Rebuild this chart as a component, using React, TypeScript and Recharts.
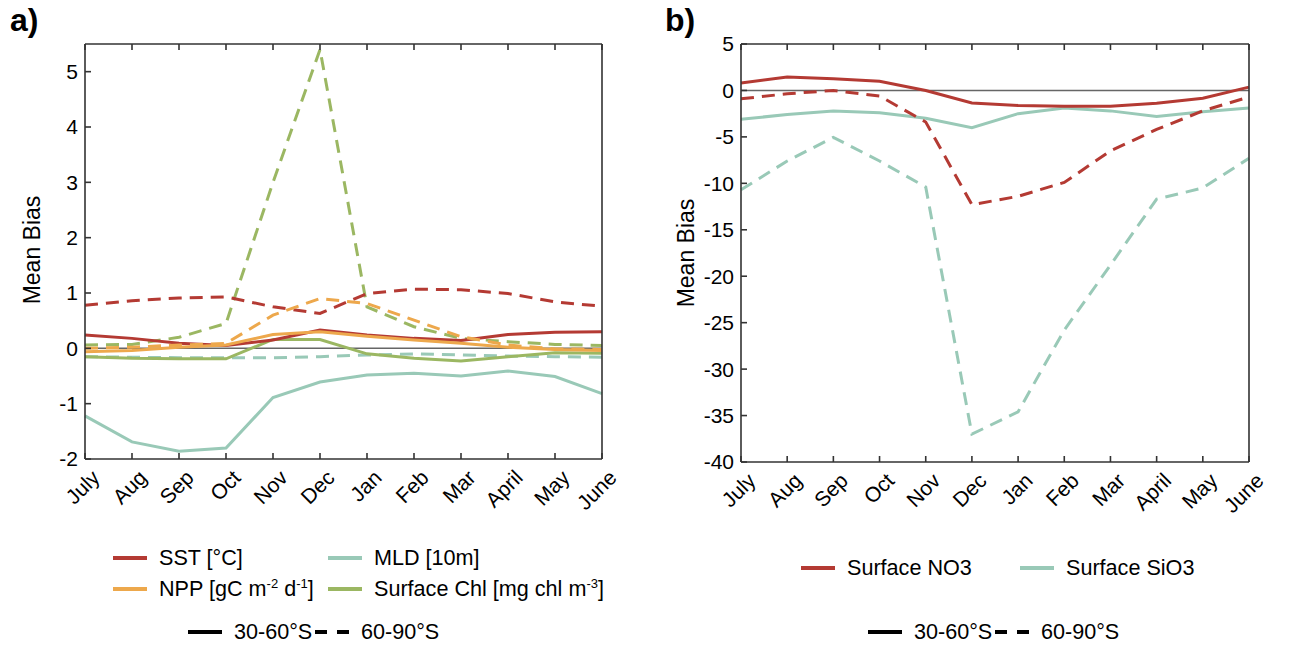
import React from 'react';
import { LineChart, Line, XAxis, YAxis, ReferenceLine } from 'recharts';

const months = ['July', 'Aug', 'Sep', 'Oct', 'Nov', 'Dec', 'Jan', 'Feb', 'Mar', 'April', 'May', 'June'];

// panel a, 30-60S (solid) and 60-90S (dashed)
const sstNorth = [0.24, 0.18, 0.09, 0.05, 0.15, 0.33, 0.24, 0.18, 0.14, 0.25, 0.29, 0.3];
const sstSouth = [0.78, 0.86, 0.91, 0.93, 0.75, 0.63, 0.99, 1.07, 1.06, 0.99, 0.84, 0.76];
const nppNorth = [-0.06, -0.04, 0.02, 0.06, 0.25, 0.3, 0.22, 0.15, 0.09, 0.02, -0.02, -0.04];
const nppSouth = [0.0, 0.02, 0.06, 0.09, 0.6, 0.9, 0.81, 0.51, 0.21, 0.06, -0.01, -0.02];
const chlNorth = [-0.15, -0.18, -0.19, -0.19, 0.16, 0.16, -0.1, -0.18, -0.23, -0.15, -0.08, -0.09];
const chlSouth = [0.06, 0.07, 0.2, 0.45, 3.0, 5.4, 0.75, 0.39, 0.18, 0.12, 0.07, 0.05];
const mldNorth = [-1.22, -1.69, -1.86, -1.8, -0.89, -0.61, -0.48, -0.45, -0.5, -0.41, -0.51, -0.82];
const mldSouth = [-0.15, -0.16, -0.17, -0.17, -0.17, -0.15, -0.12, -0.1, -0.12, -0.14, -0.15, -0.16];

// panel b
const no3North = [0.8, 1.45, 1.26, 1.0, 0.0, -1.34, -1.62, -1.7, -1.7, -1.37, -0.83, 0.36];
const no3South = [-0.9, -0.36, 0.0, -0.6, -3.4, -12.3, -11.4, -9.9, -6.5, -4.2, -2.2, -0.7];
const sio3North = [-3.1, -2.6, -2.2, -2.4, -3.0, -4.0, -2.5, -1.9, -2.2, -2.8, -2.3, -1.9];
const sio3South = [-10.7, -7.6, -5.05, -7.6, -10.4, -37.0, -34.6, -25.8, -18.8, -11.7, -10.5, -7.3];

const ticksA = [-2, -1, 0, 1, 2, 3, 4, 5];
const ticksB = [-40, -35, -30, -25, -20, -15, -10, -5, 0, 5];

const RED = '#b43a33';
const ORANGE = '#eda84c';
const TEAL = '#99c9b7';
const GREEN = '#9bb762';
const AXIS = '#333';
const FONT = '"Liberation Sans", Arial, Helvetica, sans-serif';
const DASH = '13 8';

const dataA = months.map((m, i) => ({
  m,
  sstN: sstNorth[i], sstS: sstSouth[i],
  nppN: nppNorth[i], nppS: nppSouth[i],
  chlN: chlNorth[i], chlS: chlSouth[i],
  mldN: mldNorth[i], mldS: mldSouth[i],
}));

const dataB = months.map((m, i) => ({
  m,
  no3N: no3North[i], no3S: no3South[i],
  sioN: sio3North[i], sioS: sio3South[i],
}));

const MonthTick = (props: any) => {
  const { x, y, payload } = props;
  const ax = x + 16;
  const ay = y + 6;
  return (
    <text x={ax} y={ay} transform={`rotate(-45, ${ax}, ${ay})`} textAnchor="end"
      fontSize={21} fontFamily={FONT} fill="#000">
      {payload.value}
    </text>
  );
};

const NoTick = () => <g />;

const axisStyle = { stroke: AXIS, strokeWidth: 1.6 };
const tickStyle = { fontSize: 21, fontFamily: FONT, fill: '#000' };

const Frame = (domain: number[], ticks: number[]) => [
  <XAxis key="xb" dataKey="m" height={1} tickSize={-6} tickMargin={20} interval={0}
    axisLine={axisStyle} tickLine={axisStyle} tick={<MonthTick />} />,
  <XAxis key="xt" xAxisId="top" orientation="top" dataKey="m" height={1} tickSize={-6} interval={0}
    axisLine={axisStyle} tickLine={axisStyle} tick={<NoTick />} />,
  <YAxis key="yl" type="number" domain={domain} ticks={ticks} width={1} tickSize={-6} tickMargin={13}
    interval={0} axisLine={axisStyle} tickLine={axisStyle} tick={tickStyle} />,
  <YAxis key="yr" yAxisId="r" orientation="right" type="number" domain={domain} ticks={ticks} width={1}
    tickSize={-6} interval={0} axisLine={axisStyle} tickLine={axisStyle} tick={<NoTick />} />,
];

const Swatch = ({ color, dashed }: { color: string; dashed?: boolean }) => (
  <svg width={34} height={8} style={{ display: 'block' }}>
    <line x1={0} y1={4} x2={34} y2={4} stroke={color} strokeWidth={4} strokeDasharray={dashed ? '12 10' : undefined} />
  </svg>
);

const Item = ({ left, top, color, dashed, children }: any) => (
  <div style={{ position: 'absolute', left, top, display: 'flex', alignItems: 'center', whiteSpace: 'nowrap' }}>
    <Swatch color={color} dashed={dashed} />
    <span style={{ marginLeft: 12, fontSize: 21.6, fontFamily: FONT, color: '#000' }}>{children}</span>
  </div>
);

const sup = { fontSize: 13, verticalAlign: 'super', lineHeight: 0 } as React.CSSProperties;

const YLabel = ({ left, top }: { left: number; top: number }) => (
  <div style={{
    position: 'absolute', left, top, width: 200, marginLeft: -100, textAlign: 'center',
    transform: 'rotate(-90deg)', fontSize: 23, fontFamily: FONT, lineHeight: '26px', marginTop: -13,
  }}>Mean Bias</div>
);

export default function App() {
  return (
    <div style={{ position: 'absolute', left: 0, top: 0, width: 1299, height: 646, background: '#fff', fontFamily: FONT }}>
      <div style={{ position: 'absolute', left: 10, top: 2, fontSize: 32, fontWeight: 'bold' }}>a)</div>
      <div style={{ position: 'absolute', left: 665, top: 2, fontSize: 32, fontWeight: 'bold' }}>b)</div>
      <YLabel left={32} top={250} />
      <YLabel left={686} top={253} />

      <div style={{ position: 'absolute', left: 0, top: 0 }}>
        <LineChart width={640} height={646} data={dataA}
          margin={{ top: 43, left: 84, right: 37, bottom: 186 }}>
          {Frame([-2, 5.5], ticksA)}
          <ReferenceLine y={0} stroke="#666" strokeWidth={1.5} />
          <Line dataKey="mldS" stroke={TEAL} strokeWidth={3} strokeDasharray={DASH} dot={false} isAnimationActive={false} />
          <Line dataKey="mldN" stroke={TEAL} strokeWidth={3} dot={false} isAnimationActive={false} />
          <Line dataKey="chlS" stroke={GREEN} strokeWidth={3} strokeDasharray={DASH} dot={false} isAnimationActive={false} />
          <Line dataKey="chlN" stroke={GREEN} strokeWidth={3} dot={false} isAnimationActive={false} />
          <Line dataKey="sstS" stroke={RED} strokeWidth={3} strokeDasharray={DASH} dot={false} isAnimationActive={false} />
          <Line dataKey="sstN" stroke={RED} strokeWidth={3} dot={false} isAnimationActive={false} />
          <Line dataKey="nppS" stroke={ORANGE} strokeWidth={3} strokeDasharray={DASH} dot={false} isAnimationActive={false} />
          <Line dataKey="nppN" stroke={ORANGE} strokeWidth={3} dot={false} isAnimationActive={false} />
        </LineChart>
      </div>

      <div style={{ position: 'absolute', left: 640, top: 0 }}>
        <LineChart width={659} height={646} data={dataB}
          margin={{ top: 43, left: 100, right: 49, bottom: 183 }}>
          {Frame([-40, 5], ticksB)}
          <ReferenceLine y={0} stroke="#666" strokeWidth={1.5} />
          <Line dataKey="sioS" stroke={TEAL} strokeWidth={3} strokeDasharray={DASH} dot={false} isAnimationActive={false} />
          <Line dataKey="sioN" stroke={TEAL} strokeWidth={3} dot={false} isAnimationActive={false} />
          <Line dataKey="no3S" stroke={RED} strokeWidth={3} strokeDasharray={DASH} dot={false} isAnimationActive={false} />
          <Line dataKey="no3N" stroke={RED} strokeWidth={3} dot={false} isAnimationActive={false} />
        </LineChart>
      </div>

      <Item left={113} top={545} color={RED}>SST [°C]</Item>
      <Item left={328} top={545} color={TEAL}>MLD [10m]</Item>
      <Item left={113} top={576} color={ORANGE}>NPP [gC m<span style={sup}>-2</span> d<span style={sup}>-1</span>]</Item>
      <Item left={328} top={576} color={GREEN}>Surface Chl [mg chl m<span style={sup}>-3</span>]</Item>
      <Item left={188} top={619} color="#000">30-60°S</Item>
      <Item left={315} top={619} color="#000" dashed>60-90°S</Item>

      <Item left={801} top={555} color={RED}>Surface NO3</Item>
      <Item left={1020} top={555} color={TEAL}>Surface SiO3</Item>
      <Item left={868} top={619} color="#000">30-60°S</Item>
      <Item left={995} top={619} color="#000" dashed>60-90°S</Item>
    </div>
  );
}
